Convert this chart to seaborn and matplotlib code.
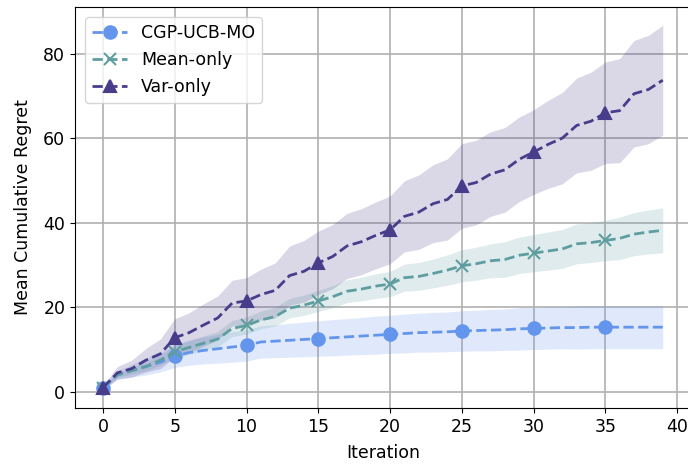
import numpy as np
import pandas as pd
import matplotlib
matplotlib.use("Agg")
import matplotlib.pyplot as plt
import seaborn as sns

iters = np.arange(40)

cgp_mean = [1, 4, 5, 6, 7, 8.5, 9.3, 9.8, 10.2, 10.6,
            11, 11.8, 12, 12.2, 12.4, 12.6, 12.8, 13, 13.2, 13.4,
            13.6, 13.8, 14, 14.1, 14.2, 14.4, 14.5, 14.6, 14.7, 14.9,
            15, 15.1, 15.2, 15.2, 15.3, 15.3, 15.3, 15.3, 15.3, 15.3]
cgp_std = [0.5, 1, 1.5, 2, 2.3, 2.7, 3, 3.2, 3.4, 3.6,
           3.7, 3.8, 3.9, 4, 4.1, 4.2, 4.3, 4.3, 4.4, 4.5,
           4.5, 4.6, 4.6, 4.7, 4.7, 4.8, 4.8, 4.9, 4.9, 5,
           5, 5, 5, 5.1, 5.1, 5.1, 5.1, 5.1, 5.1, 5.1]

mean_mean = [1, 4, 5, 6, 7.5, 9.5, 10.5, 11.5, 12.5, 15,
             15.7, 17, 17.8, 19.8, 20.5, 21.5, 22.5, 23.8, 24.3, 25,
             25.5, 27, 27.3, 28, 28.8, 29.8, 30.3, 31, 31.3, 32.3,
             32.8, 33.3, 33.8, 35, 35.3, 35.8, 36.3, 37.3, 37.8, 38.2]
mean_std = [0.3, 0.6, 0.8, 1, 1.2, 1.5, 1.6, 1.7, 1.8, 1.9,
            2, 2.1, 2.2, 2.3, 2.4, 2.5, 2.6, 2.7, 2.8, 2.9,
            3, 3.2, 3.3, 3.4, 3.6, 3.8, 3.9, 4, 4.2, 4.3,
            4.4, 4.5, 4.6, 4.7, 4.7, 4.8, 5, 5.1, 5.2, 5.3]

var_mean = [1, 4.5, 5.5, 7.5, 9, 12.8, 14, 15.8, 17.5, 21,
            21.5, 23, 24, 27.5, 28.5, 30.5, 32, 34.5, 35.5, 37,
            38.3, 41.5, 42.5, 44.5, 45.5, 48.7, 49.5, 51.5, 52.5, 55,
            56.7, 58.5, 60, 63, 64, 66, 66.5, 70.5, 71.5, 73.7]
var_std = [0.5, 1.5, 2, 2.8, 3.5, 4.5, 4.7, 5, 5.2, 5.4,
           5.5, 6, 6.5, 7, 7.3, 7.5, 7.6, 7.7, 7.8, 7.9,
           8, 8.4, 8.8, 9.2, 9.6, 10, 10, 10, 10, 10,
           10, 10.4, 10.8, 11.2, 11.6, 12, 12.3, 12.6, 12.8, 13]

labels = ["CGP-UCB-MO", "Mean-only", "Var-only"]
colors = ["cornflowerblue", "cadetblue", "darkslateblue"]
markers = ["o", "x", "^"]
means = [cgp_mean, mean_mean, var_mean]
stds = [cgp_std, mean_std, var_std]

plt.rcParams["font.size"] = 12.5
fig = plt.figure(figsize=(6.88, 4.66), dpi=100)
ax = fig.add_axes([0.109, 0.1245, 0.895, 0.8605])

for lab, c, m, mu, sd in zip(labels, colors, markers, means, stds):
    mu = np.array(mu)
    sd = np.array(sd)
    sns.lineplot(x=iters, y=mu, ax=ax, color=c, linestyle="--", linewidth=2,
                 marker=m, markevery=5, markersize=9, markeredgewidth=1.5,
                 markeredgecolor=c, label=lab)
    ax.fill_between(iters, mu - sd, mu + sd, color=c, alpha=0.2, linewidth=0)

ax.grid(True, color="#b0b0b0", linewidth=1.2)
ax.set_axisbelow(True)
ax.set_xlabel("Iteration", labelpad=6)
ax.set_ylabel("Mean Cumulative Regret", labelpad=8)
ax.set_xticks(range(0, 41, 5))
ax.set_yticks(range(0, 81, 20))
ax.legend(loc="upper left", borderaxespad=0.6)

fig.savefig("out.png", dpi=100)
